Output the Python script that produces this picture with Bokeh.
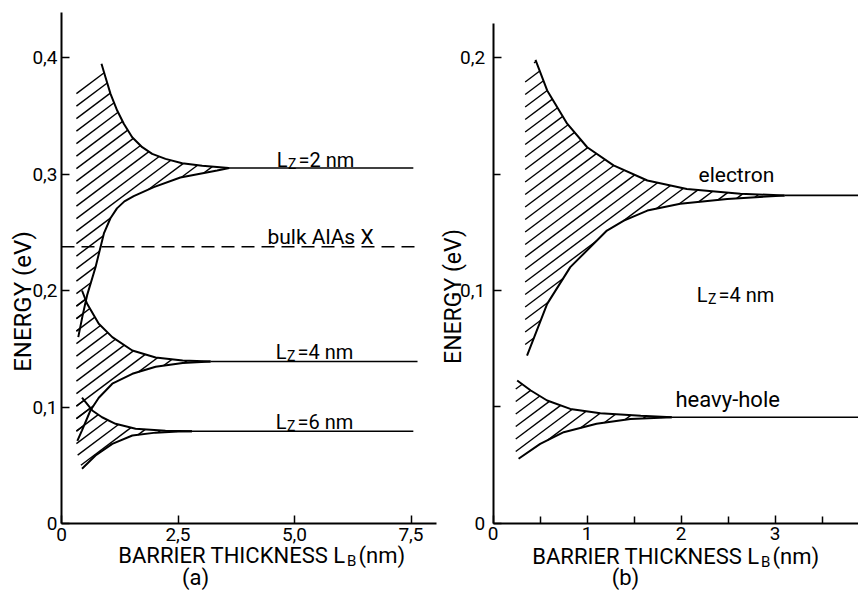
import math
from bokeh.plotting import figure
from bokeh.models import Range1d, FixedTicker, Label, LinearAxis
from bokeh.layouts import row
from bokeh.embed import file_html
from bokeh.resources import INLINE

FONT = "Roboto"

# ---------------- data : panel (a) ----------------
a_xticks = [0, 2.5, 5.0, 7.5]
a_xlabels = ["0", "2,5", "5,0", "7,5"]
a_yticks = [0, 0.1, 0.2, 0.3, 0.4]
a_ylabels = ["0", "0,1", "0,2", "0,3", "0,4"]

lz2_up_x = [0.858, 0.944, 1.052, 1.195, 1.337, 1.517, 1.732, 1.946, 2.232, 2.590, 3.019, 3.590]
lz2_up_e = [0.3946, 0.3831, 0.3688, 0.3545, 0.3431, 0.3316, 0.3230, 0.3173, 0.3130, 0.3093, 0.3070, 0.3052]
lz2_lo_x = [0.36, 0.45, 0.55, 0.73, 0.91, 1.05, 1.19, 1.35, 1.55, 1.98, 2.55, 3.34, 3.60]
lz2_lo_e = [0.160, 0.178, 0.196, 0.220, 0.249, 0.262, 0.2705, 0.2765, 0.281, 0.2887, 0.297, 0.303, 0.3052]
lz2_level = 0.3052

lz4_up_x = [0.44, 0.55, 0.80, 1.09, 1.52, 2.02, 2.60, 3.20]
lz4_up_e = [0.200, 0.1886, 0.1714, 0.160, 0.1485, 0.1425, 0.1400, 0.139]
lz4_lo_x = [0.34, 0.44, 0.62, 0.80, 1.09, 1.52, 2.02, 2.60, 3.20]
lz4_lo_e = [0.071, 0.080, 0.097, 0.108, 0.120, 0.1285, 0.1345, 0.1378, 0.139]
lz4_level = 0.139

lz6_up_x = [0.44, 0.66, 0.87, 1.16, 1.59, 2.23, 2.80]
lz6_up_e = [0.108, 0.097, 0.0912, 0.0856, 0.0813, 0.0796, 0.0792]
lz6_lo_x = [0.44, 0.73, 1.09, 1.52, 2.02, 2.50, 2.80]
lz6_lo_e = [0.047, 0.0584, 0.0684, 0.0755, 0.0780, 0.0790, 0.0792]
lz6_level = 0.0792

bulk_alas_x = 0.2375

# ---------------- data : panel (b) ----------------
b_xticks = [0, 1, 2, 3]
b_xlabels = ["0", "1", "2", "3"]
b_xminor = [0.5, 1.5, 2.5, 3.5]
b_yticks = [0, 0.1, 0.2]
b_ylabels = ["0", "0,1", "0,2"]
b_yminor = [0.05, 0.15]

el_up_x = [0.45, 0.574, 0.787, 1.0, 1.28, 1.64, 2.06, 2.63, 3.10]
el_up_e = [0.199, 0.1859, 0.1716, 0.1615, 0.1537, 0.1472, 0.1436, 0.1415, 0.1408]
el_lo_x = [0.36, 0.574, 0.82, 1.21, 1.39, 1.64, 1.99, 2.49, 3.10]
el_lo_e = [0.072, 0.0942, 0.110, 0.1257, 0.130, 0.1343, 0.1372, 0.1393, 0.1408]
el_level = 0.1408

hh_up_x = [0.255, 0.40, 0.574, 0.82, 1.14, 1.57, 1.90]
hh_up_e = [0.0613, 0.057, 0.0527, 0.0491, 0.0472, 0.0462, 0.0455]
hh_lo_x = [0.27, 0.50, 0.75, 1.10, 1.46, 1.90]
hh_lo_e = [0.0277, 0.0341, 0.0391, 0.0427, 0.0448, 0.0455]
hh_level = 0.0455

# ---------------- layout (pixels) ----------------
FIG_H = 595
# (figure left on page, width, axis x on page, px per nm, axis y on page, px per eV)
A_MAP = (0.0, 438, 61.0, 46.6, 523.0, 1165.0)
B_MAP = (438.0, 420, 492.7, 94.0, 522.7, 2328.0)
BASE_SHIFT = 0.3      # em correction for alphabetic baseline
HATCH_GAP = 12.5      # vertical spacing of hatch lines (px)
HATCH_SLOPE = 0.75    # rise / run of hatch lines on screen


def make_fig(m):
    left, w, ax_x, ppx, ax_y, ppy = m
    x0 = ax_x - left
    p = figure(width=w, height=FIG_H,
               x_range=Range1d(-x0 / ppx, (w - x0) / ppx),
               y_range=Range1d(-(FIG_H - ax_y) / ppy, ax_y / ppy),
               x_axis_location=None, y_axis_location=None, min_border=0,
               output_backend="svg", toolbar_location=None)
    p.outline_line_color = None
    p.xgrid.visible = False
    p.ygrid.visible = False
    p.background_fill_color = "white"
    p.border_fill_color = "white"
    return p


def add_axes(p, xticks, xlabels, xbound, yticks, ylabels, ybound,
             xminor=None, yminor=None, ystand=4):
    xa = LinearAxis(ticker=FixedTicker(ticks=xticks, minor_ticks=xminor or []),
                    fixed_location=0, bounds=(0, xbound))
    ya = LinearAxis(ticker=FixedTicker(ticks=yticks, minor_ticks=yminor or []),
                    fixed_location=0, bounds=(0, ybound))
    xa.major_label_overrides = {t: l for t, l in zip(xticks, xlabels)}
    ya.major_label_overrides = {t: l for t, l in zip(yticks, ylabels)}
    for ax in (xa, ya):
        ax.axis_line_width = 2
        ax.axis_line_color = "black"
        ax.major_tick_in = 8
        ax.major_tick_out = 0
        ax.minor_tick_in = 7
        ax.minor_tick_out = 0
        ax.major_tick_line_width = 1.5
        ax.minor_tick_line_width = 1.5
        ax.major_tick_line_color = "black"
        ax.minor_tick_line_color = "black"
        ax.major_label_text_font = FONT
        ax.major_label_text_font_size = "19px"
        ax.major_label_text_color = "black"
    xa.major_label_standoff = 4
    ya.major_label_standoff = ystand
    p.add_layout(xa, "below")
    p.add_layout(ya, "left")


def hatch_segments(xs, ys, m):
    """Clip a family of screen-space parallel lines to the polygon (xs, ys)."""
    left, w, ax_x, ppx, ax_y, ppy = m
    P = [(ax_x + x * ppx, ax_y - y * ppy) for x, y in zip(xs, ys)]
    K = [Y + HATCH_SLOPE * X for X, Y in P]
    n = len(P)
    seg_x, seg_y = [], []
    for k in range(int(math.floor(min(K) / HATCH_GAP)), int(math.ceil(max(K) / HATCH_GAP)) + 1):
        kv = k * HATCH_GAP
        hits = []
        for i in range(n):
            j = (i + 1) % n
            fi, fj = K[i] - kv, K[j] - kv
            if (fi > 0) != (fj > 0):
                t = fi / (fi - fj)
                hits.append(P[i][0] + t * (P[j][0] - P[i][0]))
        hits.sort()
        for a, b in zip(hits[0::2], hits[1::2]):
            seg_x.append([(a - ax_x) / ppx, (b - ax_x) / ppx])
            seg_y.append([(ax_y - (kv - HATCH_SLOPE * a)) / ppy,
                          (ax_y - (kv - HATCH_SLOPE * b)) / ppy])
    return seg_x, seg_y


def band(p, m, up_x, up_e, lo_x, lo_e, level, x_end, left_x, tl_e, bl_e):
    xs = [left_x] + up_x + lo_x[::-1] + [left_x]
    ys = [tl_e] + up_e + lo_e[::-1] + [bl_e]
    hx, hy = hatch_segments(xs, ys, m)
    p.multi_line(hx, hy, line_color="black", line_width=1.4)
    p.line(up_x, up_e, line_color="black", line_width=2)
    p.line(lo_x, lo_e, line_color="black", line_width=2)
    p.line([up_x[-1], x_end], [level, level], line_color="black", line_width=1.6)


def tpx(p, m, X, Y, s, fs, align="left", baseline="alphabetic", angle=0.0):
    """Place a text at page pixel (X, Y)."""
    left, w, ax_x, ppx, ax_y, ppy = m
    if baseline == "alphabetic":
        Y = Y - BASE_SHIFT * fs
    p.add_layout(Label(x=(X - ax_x) / ppx, y=(ax_y - Y) / ppy, text=s,
                       text_font=FONT, text_font_size=f"{fs}px",
                       text_align=align, text_baseline=baseline, angle=angle,
                       text_color="black"))


def lz(p, m, x_l_end, x_eq, base, rest):
    tpx(p, m, x_l_end, base, "L", 20, align="right")
    tpx(p, m, x_l_end + 0.5, base + 2.5, "Z", 14)
    tpx(p, m, x_eq, base, rest, 20)


def xtitle(p, m, x_l_end, base):
    tpx(p, m, x_l_end, base, "BARRIER THICKNESS L", 22, align="right")
    tpx(p, m, x_l_end + 1.5, base + 3, "B", 15)
    tpx(p, m, x_l_end + 13, base, "(nm)", 22)


# ---------------- panel (a) ----------------
pa = make_fig(A_MAP)
add_axes(pa, a_xticks, a_xlabels, 8.05, a_yticks, a_ylabels, 0.4386, ystand=4)

band(pa, A_MAP, lz2_up_x, lz2_up_e, lz2_lo_x, lz2_lo_e, lz2_level, 7.55, 0.32, 0.372, 0.160)
band(pa, A_MAP, lz4_up_x, lz4_up_e, lz4_lo_x, lz4_lo_e, lz4_level, 7.64, 0.32, 0.195, 0.071)
band(pa, A_MAP, lz6_up_x, lz6_up_e, lz6_lo_x, lz6_lo_e, lz6_level, 7.55, 0.32, 0.105, 0.062)
pa.line([0, 7.65], [bulk_alas_x, bulk_alas_x], line_color="black", line_width=1.6,
        line_dash="13 7")

lz(pa, A_MAP, 287, 298, 165, "=2 nm")
lz(pa, A_MAP, 286, 297, 357, "=4 nm")
lz(pa, A_MAP, 286, 297, 427, "=6 nm")
tpx(pa, A_MAP, 267, 243, "bulk AlAs X", 21)

tpx(pa, A_MAP, 22, 301, "ENERGY (eV)", 24, align="center", baseline="middle", angle=math.pi / 2)
xtitle(pa, A_MAP, 345, 562)
tpx(pa, A_MAP, 195, 577, "(a)", 22, align="center", baseline="middle")

# ---------------- panel (b) ----------------
pb = make_fig(B_MAP)
b_xend = (B_MAP[0] + B_MAP[1] - B_MAP[2]) / B_MAP[3]
add_axes(pb, b_xticks, b_xlabels, b_xend, b_yticks, b_ylabels, 0.2146,
         xminor=b_xminor, yminor=b_yminor, ystand=8)

band(pb, B_MAP, el_up_x, el_up_e, el_lo_x, el_lo_e, el_level, b_xend, 0.34, 0.190, 0.072)
band(pb, B_MAP, hh_up_x, hh_up_e, hh_lo_x, hh_lo_e, hh_level, b_xend, 0.24, 0.0600, 0.0277)

tpx(pb, B_MAP, 698, 181, "electron", 21)
tpx(pb, B_MAP, 675, 406, "heavy-hole", 22)
lz(pb, B_MAP, 707, 718, 300, "=4 nm")

tpx(pb, B_MAP, 453, 296, "ENERGY (eV)", 23, align="center", baseline="middle", angle=math.pi / 2)
xtitle(pb, B_MAP, 759, 563)
tpx(pb, B_MAP, 625, 577, "(b)", 22, align="center", baseline="middle")

layout = row(pa, pb)
open("out.html", "w").write(file_html(layout, INLINE))
